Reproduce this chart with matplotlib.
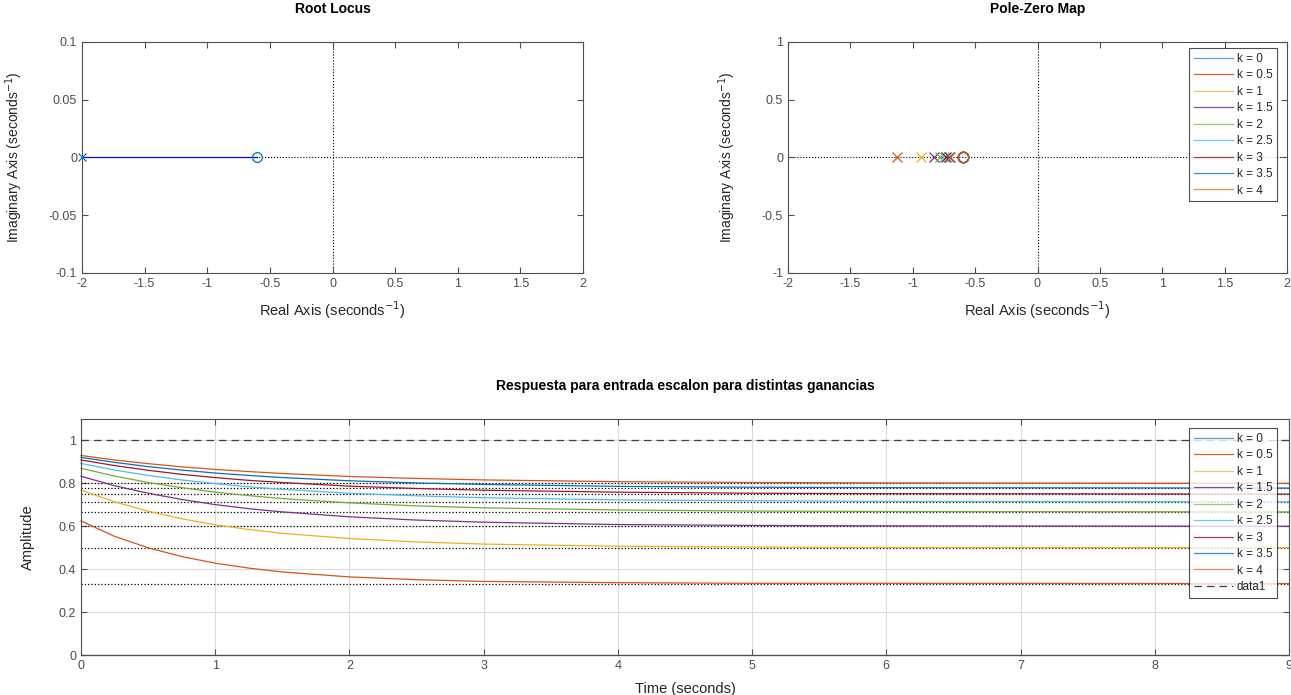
import numpy as np
import matplotlib
matplotlib.use('Agg')
from matplotlib import pyplot as plt
from matplotlib.lines import Line2D
from matplotlib.ticker import FuncFormatter

plt.rcParams['font.family'] = ['Liberation Sans', 'DejaVu Sans']

# ---------------- data ----------------
gains = [0, 0.5, 1, 1.5, 2, 2.5, 3, 3.5, 4]
labels = ['k = %g' % k for k in gains]
# MATLAB default colour order
colors = ['#0072BD', '#D95319', '#EDB120', '#7E2F8E', '#77AC30',
          '#4DBEEE', '#A2142F', '#0072BD', '#D95319']
# lighter versions as they show up in the legends
legend_colors = ['#5aa0d8', '#e0622a', '#f0c860', '#8a4a9a', '#9cc86a',
                 '#6ccaf0', '#b8364a', '#3a90cc', '#e88a5a']

# root locus: open loop pole / zero
rl_pole = -2.0
rl_zero = -0.6

# pole-zero map: closed loop pole for each gain (k=0 has none), common zero
cl_poles = [None, -1.13, -0.93, -0.83, -0.78, -0.75, -0.73, -0.71, -0.70]
cl_zero = -0.6

# step responses, sampled from the plot
t_samples = [0, 0.25, 0.5, 0.75, 1, 1.25, 1.5, 2, 2.5, 3, 4, 5, 6, 9]
y_k0 = [0, 0, 0, 0, 0, 0, 0, 0, 0, 0, 0, 0, 0, 0]
y_k05 = [0.625, 0.553, 0.500, 0.459, 0.428, 0.405, 0.387, 0.364, 0.351, 0.343, 0.337, 0.334, 0.334, 0.333]
y_k1 = [0.769, 0.714, 0.670, 0.635, 0.607, 0.585, 0.567, 0.543, 0.527, 0.517, 0.507, 0.503, 0.501, 0.500]
y_k15 = [0.833, 0.789, 0.754, 0.725, 0.701, 0.682, 0.667, 0.644, 0.629, 0.619, 0.608, 0.604, 0.602, 0.600]
y_k2 = [0.870, 0.834, 0.804, 0.780, 0.759, 0.743, 0.729, 0.709, 0.695, 0.686, 0.676, 0.671, 0.669, 0.667]
y_k25 = [0.893, 0.862, 0.837, 0.816, 0.799, 0.784, 0.772, 0.754, 0.742, 0.733, 0.723, 0.719, 0.716, 0.714]
y_k3 = [0.909, 0.883, 0.861, 0.842, 0.827, 0.814, 0.804, 0.787, 0.776, 0.768, 0.759, 0.754, 0.752, 0.750]
y_k35 = [0.921, 0.898, 0.878, 0.862, 0.848, 0.837, 0.827, 0.812, 0.802, 0.795, 0.786, 0.782, 0.780, 0.778]
y_k4 = [0.930, 0.909, 0.892, 0.877, 0.865, 0.855, 0.846, 0.832, 0.823, 0.816, 0.808, 0.804, 0.802, 0.800]
responses = [y_k0, y_k05, y_k1, y_k15, y_k2, y_k25, y_k3, y_k35, y_k4]
steady = [0, 0.333, 0.5, 0.6, 0.667, 0.714, 0.75, 0.778, 0.8]
ref_level = 1.0

# ---------------- styling ----------------
axcol = '#505050'
txtcol = '#4d4d4d'
lblcol = '#262626'


def fmt(v, p):
    return '0' if abs(v) < 1e-9 else '%g' % round(v, 4)


def style(ax):
    for s in ax.spines.values():
        s.set_color(axcol)
        s.set_linewidth(0.8)
    ax.tick_params(direction='in', top=True, right=True, colors=axcol,
                   labelcolor=txtcol, labelsize=9, length=4, width=0.8)
    ax.xaxis.set_major_formatter(FuncFormatter(fmt))
    ax.yaxis.set_major_formatter(FuncFormatter(fmt))


def legend(ax, handles, texts, anchor):
    leg = ax.legend(handles, texts, loc='upper right', bbox_to_anchor=anchor,
                    borderaxespad=0, fontsize=8.5, handlelength=3.3,
                    labelspacing=0.38, handletextpad=0.3, borderpad=0.4,
                    fancybox=False)
    leg.get_frame().set_edgecolor('#202020')
    leg.get_frame().set_linewidth(0.8)
    for t in leg.get_texts():
        t.set_color(lblcol)
    return leg


fig = plt.figure(figsize=(12.91, 6.95), dpi=100)

# ---------------- Root locus ----------------
ax1 = fig.add_axes([82 / 1291, 1 - 273 / 695, 501 / 1291, 231 / 695])
ax1.axhline(0, color='k', ls=':', lw=0.8, zorder=1)
ax1.axvline(0, color='k', ls=':', lw=0.8, zorder=1)
ax1.plot([rl_pole, rl_zero], [0, 0], color='#1010c8', lw=0.9, zorder=2)
ax1.plot([rl_pole], [0], 'x', color='#0072BD', ms=6, mew=0.9, zorder=3, clip_on=False)
ax1.plot([rl_zero], [0], 'o', mfc='none', mec='#0072BD', ms=7, mew=0.9, zorder=3)
ax1.set_xlim(-2, 2)
ax1.set_ylim(-0.1, 0.1)
ax1.set_xticks(np.arange(-2, 2.01, 0.5))
ax1.set_yticks([-0.1, -0.05, 0, 0.05, 0.1])
style(ax1)
ax1.set_xlabel('Real Axis (seconds$^{-1}$)', fontsize=10.5, color=lblcol, labelpad=7)
ax1.set_ylabel('Imaginary Axis (seconds$^{-1}$)', fontsize=10, color=lblcol, labelpad=17)
ax1.set_title('Root Locus', fontsize=10, fontweight='bold', pad=21)

# ---------------- Pole-zero map ----------------
ax2 = fig.add_axes([788 / 1291, 1 - 273 / 695, 499 / 1291, 231 / 695])
ax2.axhline(0, color='k', ls=':', lw=0.8, zorder=1)
ax2.axvline(0, color='k', ls=':', lw=0.8, zorder=1)
for p, c in zip(cl_poles, colors):
    if p is None:
        continue
    ax2.plot([p], [0], 'x', color=c, ms=6.5, mew=0.9, zorder=3)
    ax2.plot([cl_zero], [0], 'o', mfc='none', mec=c, ms=7.5, mew=0.9, zorder=3)
ax2.set_xlim(-2, 2)
ax2.set_ylim(-1, 1)
ax2.set_xticks(np.arange(-2, 2.01, 0.5))
ax2.set_yticks([-1, -0.5, 0, 0.5, 1])
style(ax2)
ax2.set_xlabel('Real Axis (seconds$^{-1}$)', fontsize=10.5, color=lblcol, labelpad=7)
ax2.set_ylabel('Imaginary Axis (seconds$^{-1}$)', fontsize=10, color=lblcol, labelpad=17)
ax2.set_title('Pole-Zero Map', fontsize=10, fontweight='bold', pad=21)
h2 = [Line2D([], [], color=c, lw=0.9) for c in legend_colors]
legend(ax2, h2, labels, (1 - 10 / 499, 1 - 6 / 231))

# ---------------- Step responses ----------------
ax3 = fig.add_axes([81 / 1291, 1 - 655 / 695, 1208 / 1291, 236 / 695])
ax3.grid(True, color='#dcdcdc', lw=0.8, zorder=0)
ax3.set_axisbelow(True)
for ys in steady[1:]:
    ax3.plot([0, 9], [ys, ys], color='k', ls=':', lw=0.9, zorder=1)
for y, c in zip(responses, colors):
    ax3.plot(t_samples, y, color=c, lw=0.9, zorder=2, clip_on=False)
ax3.plot([0, 9], [ref_level, ref_level], color='#404040', ls=(0, (6, 4)), lw=0.9, zorder=2)
h3 = [Line2D([], [], color=c, lw=0.9) for c in legend_colors]
h3.append(Line2D([], [], color='#404040', ls=(0, (6, 4)), lw=0.9))
ax3.set_xlim(0, 9)
ax3.set_ylim(0, 1.1)
ax3.set_xticks(np.arange(0, 10, 1))
ax3.set_yticks([0, 0.2, 0.4, 0.6, 0.8, 1])
style(ax3)
ax3.set_xlabel('Time (seconds)', fontsize=10.5, color=lblcol, labelpad=7)
ax3.set_ylabel('Amplitude', fontsize=10.5, color=lblcol, labelpad=17)
ax3.set_title('Respuesta para entrada escalon para distintas ganancias',
              fontsize=10, fontweight='bold', pad=21)
legend(ax3, h3, labels + ['data1'], (1 - 12 / 1208, 1 - 9 / 236))

fig.savefig('out.png', dpi=100)
